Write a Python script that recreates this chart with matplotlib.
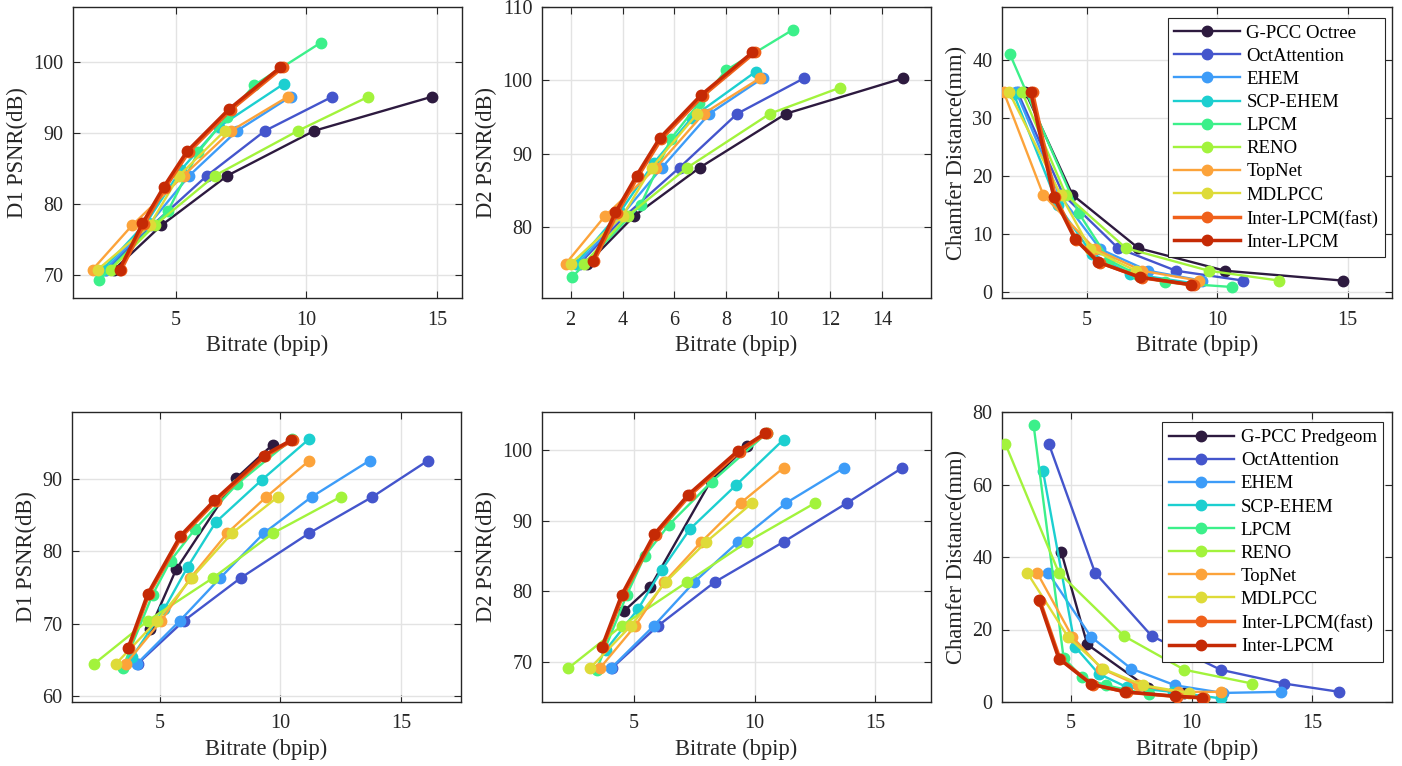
import numpy as np
import matplotlib
matplotlib.use("Agg")
import matplotlib.pyplot as plt

plt.rcParams.update({
    "font.family": "serif",
    "font.serif": ["Liberation Serif", "DejaVu Serif"],
    "axes.edgecolor": "#262626",
    "xtick.color": "#262626",
    "ytick.color": "#262626",
    "axes.labelcolor": "#262626",
})

# method names (top row: Octree datasets, bottom row: Predgeom datasets)
methods_top = ["G-PCC Octree", "OctAttention", "EHEM", "SCP-EHEM", "LPCM",
               "RENO", "TopNet", "MDLPCC", "Inter-LPCM(fast)", "Inter-LPCM"]
methods_bot = ["G-PCC Predgeom", "OctAttention", "EHEM", "SCP-EHEM", "LPCM",
               "RENO", "TopNet", "MDLPCC", "Inter-LPCM(fast)", "Inter-LPCM"]
colors = ["#2d1a3f", "#4455cc", "#3d9cf8", "#1ccfd0", "#3cf08a",
          "#a2f33c", "#fca33a", "#dedb38", "#f0601a", "#c52a05"]

# ---- top row ----
top_rate = [
    [2.65, 4.45, 6.98, 10.3, 14.82],
    [2.35, 4.1, 6.2, 8.42, 11.0],
    [2.3, 3.95, 5.52, 7.35, 9.4],
    [2.2, 3.9, 5.2, 6.67, 9.14],
    [2.05, 4.7, 5.86, 6.95, 8.0, 10.56],
    [2.52, 4.2, 6.5, 9.68, 12.38],
    [1.82, 3.33, 5.3, 7.12, 9.3],
    [2.02, 4.0, 5.13, 6.88],
    [2.92, 3.8, 4.6, 5.5, 7.1, 9.1],
    [2.85, 3.73, 4.54, 5.43, 7.03, 9.0],
]
top_d1 = [
    [70.8, 77.0, 84.0, 90.3, 95.1],
    [70.8, 77.0, 84.0, 90.3, 95.1],
    [70.8, 77.0, 84.0, 90.3, 95.1],
    [70.8, 77.5, 84.8, 90.9, 96.9],
    [69.3, 79.0, 87.3, 92.2, 96.7, 102.7],
    [70.8, 77.0, 84.0, 90.3, 95.1],
    [70.8, 77.0, 84.0, 90.3, 95.1],
    [70.8, 77.0, 84.0, 90.3],
    [70.8, 77.2, 82.3, 87.3, 93.2, 99.2],
    [70.8, 77.3, 82.4, 87.4, 93.3, 99.2],
]
top_d2 = [
    [75.0, 81.5, 88.1, 95.45, 100.3],
    [75.0, 81.5, 88.1, 95.45, 100.3],
    [75.0, 81.5, 88.1, 95.45, 100.3],
    [75.0, 82.0, 88.7, 94.9, 101.2],
    [73.1, 83.0, 92.0, 96.9, 101.4, 106.9],
    [75.0, 81.5, 88.1, 95.45, 99.0],
    [75.0, 81.5, 88.1, 95.45, 100.3],
    [75.0, 81.5, 88.1, 95.45],
    [75.4, 81.9, 86.9, 92.0, 97.9, 103.8],
    [75.4, 82.0, 87.0, 92.1, 98.0, 103.8],
]
top_cd = [
    [34.5, 16.8, 7.6, 3.7, 2.0],
    [34.5, 16.8, 7.6, 3.7, 2.0],
    [34.5, 16.8, 7.4, 3.7, 2.0],
    [34.2, 15.0, 6.6, 3.2, 1.5],
    [41.1, 13.6, 5.5, 3.0, 1.7, 0.9],
    [34.5, 16.8, 7.6, 3.7, 2.0],
    [34.5, 16.8, 7.5, 3.7, 2.0],
    [34.5, 16.8, 7.5, 3.7],
    [34.5, 16.4, 9.0, 5.1, 2.5, 1.2],
    [34.5, 16.5, 9.2, 5.2, 2.6, 1.3],
]

# ---- bottom row ----
bot_rate = [
    [4.6, 5.68, 8.18, 9.68],
    [4.09, 6.0, 8.35, 11.2, 13.82, 16.12],
    [4.06, 5.83, 7.5, 9.32, 11.3, 13.7],
    [3.85, 5.18, 6.15, 7.32, 9.22, 11.2],
    [3.46, 4.7, 5.45, 6.45, 8.22, 10.5],
    [2.29, 4.5, 7.2, 9.7, 12.5],
    [3.6, 5.06, 6.27, 7.8, 9.42, 11.2],
    [3.19, 4.88, 6.32, 8.0, 9.9],
    [3.72, 4.55, 5.9, 7.32, 9.38, 10.52],
    [3.68, 4.5, 5.85, 7.26, 9.31, 10.44],
]
bot_d1 = [
    [69.3, 77.5, 90.1, 94.7],
    [64.5, 70.4, 76.3, 82.5, 87.5, 92.5],
    [64.5, 70.4, 76.3, 82.5, 87.5, 92.5],
    [65.4, 72.0, 77.8, 84.0, 89.8, 95.5],
    [63.9, 74.0, 78.7, 83.0, 89.3, 95.5],
    [64.5, 70.4, 76.3, 82.5, 87.5],
    [64.5, 70.4, 76.3, 82.5, 87.5, 92.5],
    [64.5, 70.4, 76.3, 82.5, 87.5],
    [66.6, 74.1, 82.0, 86.9, 93.1, 95.3],
    [66.6, 74.1, 82.1, 87.0, 93.2, 95.3],
]
bot_d2 = [
    [77.2, 80.6, 95.6, 100.6],
    [69.1, 75.1, 81.3, 87.0, 92.5, 97.5],
    [69.1, 75.1, 81.3, 87.0, 92.5, 97.5],
    [71.7, 77.5, 83.0, 88.8, 95.0, 101.5],
    [68.9, 79.4, 85.0, 89.4, 95.5, 102.4],
    [69.1, 75.1, 81.3, 87.0, 92.5],
    [69.1, 75.1, 81.3, 87.0, 92.5, 97.5],
    [69.1, 75.1, 81.3, 87.0, 92.5],
    [72.1, 79.4, 88.0, 93.6, 99.8, 102.4],
    [72.1, 79.5, 88.1, 93.7, 99.9, 102.4],
]
bot_cd = [
    [41.5, 15.9, 4.0, 2.5],
    [71.2, 35.7, 18.2, 8.9, 5.1, 2.8],
    [35.7, 18.0, 9.2, 4.6, 2.5, 2.8],
    [63.6, 15.2, 7.8, 4.1, 2.8, 1.0],
    [76.3, 12.2, 6.9, 4.6, 2.1, 1.0],
    [71.2, 35.7, 18.2, 8.9, 5.1],
    [35.7, 18.0, 9.2, 4.6, 2.8, 2.8],
    [35.7, 18.0, 9.2, 4.6, 2.5],
    [28.0, 11.9, 4.8, 2.7, 1.5, 1.1],
    [28.1, 12.0, 4.9, 2.8, 1.6, 1.2],
]

W, H = 1402, 766
fig = plt.figure(figsize=(W / 100, H / 100), dpi=100)


def px_axes(x0, y0, x1, y1):
    return fig.add_axes([x0 / W, 1 - y1 / H, (x1 - x0) / W, (y1 - y0) / H])


def draw(ax, rates, vals, names, xlim, ylim, xticks, yticks, ylabel):
    for i, (r, v) in enumerate(zip(rates, vals)):
        lw = 2.5 if i >= 8 else 1.7
        ax.plot(r, v, "-o", color=colors[i], lw=lw, ms=7.5, label=names[i],
                zorder=3 + i)
    ax.set_xlim(*xlim)
    ax.set_ylim(*ylim)
    ax.set_xticks(xticks)
    ax.set_yticks(yticks)
    ax.grid(True, color="#e3e3e3", lw=1.0)
    ax.set_axisbelow(True)
    ax.tick_params(direction="in", length=5, width=0.8, top=True, right=True,
                   labelsize=14.5)
    ax.tick_params(axis="x", pad=9)
    ax.tick_params(axis="y", pad=7)
    for s in ax.spines.values():
        s.set_linewidth(1.0)
    ax.set_xlabel("Bitrate (bpip)", fontsize=16.3, labelpad=4)
    ax.set_ylabel(ylabel, fontsize=16.3, labelpad=4)


ax1 = px_axes(73, 7, 462, 298)
draw(ax1, top_rate, top_d1, methods_top, (1.07, 15.96), (66.8, 107.7),
     [5, 10, 15], [70, 80, 90, 100], "D1 PSNR(dB)")
ax2 = px_axes(542, 7, 931, 298)
draw(ax2, top_rate, top_d2, methods_top, (0.9, 15.88), (70.3, 110),
     np.arange(2, 15, 2), [80, 90, 100, 110], "D2 PSNR(dB)")
ax3 = px_axes(1002, 7, 1392, 298)
draw(ax3, top_rate, top_cd, methods_top, (1.75, 16.7), (-1, 49.2),
     [5, 10, 15], [0, 10, 20, 30, 40], "Chamfer Distance(mm)")

ax4 = px_axes(72, 412, 461, 702)
draw(ax4, bot_rate, bot_d1, methods_bot, (1.36, 17.49), (59.2, 99.2),
     [5, 10, 15], [60, 70, 80, 90], "D1 PSNR(dB)")
ax5 = px_axes(542, 412, 931, 702)
draw(ax5, bot_rate, bot_d2, methods_bot, (1.2, 17.3), (64.3, 105.4),
     [5, 10, 15], [70, 80, 90, 100], "D2 PSNR(dB)")
ax6 = px_axes(1002, 412, 1392, 702)
draw(ax6, bot_rate, bot_cd, methods_bot, (2.15, 18.3), (0, 80),
     [5, 10, 15], [0, 20, 40, 60, 80], "Chamfer Distance(mm)")

for ax, anchor in [(ax3, (0.982, 0.962)), (ax6, (0.978, 0.964))]:
    leg = ax.legend(loc="upper right", bbox_to_anchor=anchor, borderaxespad=0,
                    fontsize=13.5, handlelength=3.5, labelspacing=0.32,
                    handletextpad=0.35, borderpad=0.35, fancybox=False,
                    framealpha=1, edgecolor="#262626")
    leg.get_frame().set_linewidth(0.8)
    leg.set_zorder(20)

fig.savefig("out.png", dpi=100)
